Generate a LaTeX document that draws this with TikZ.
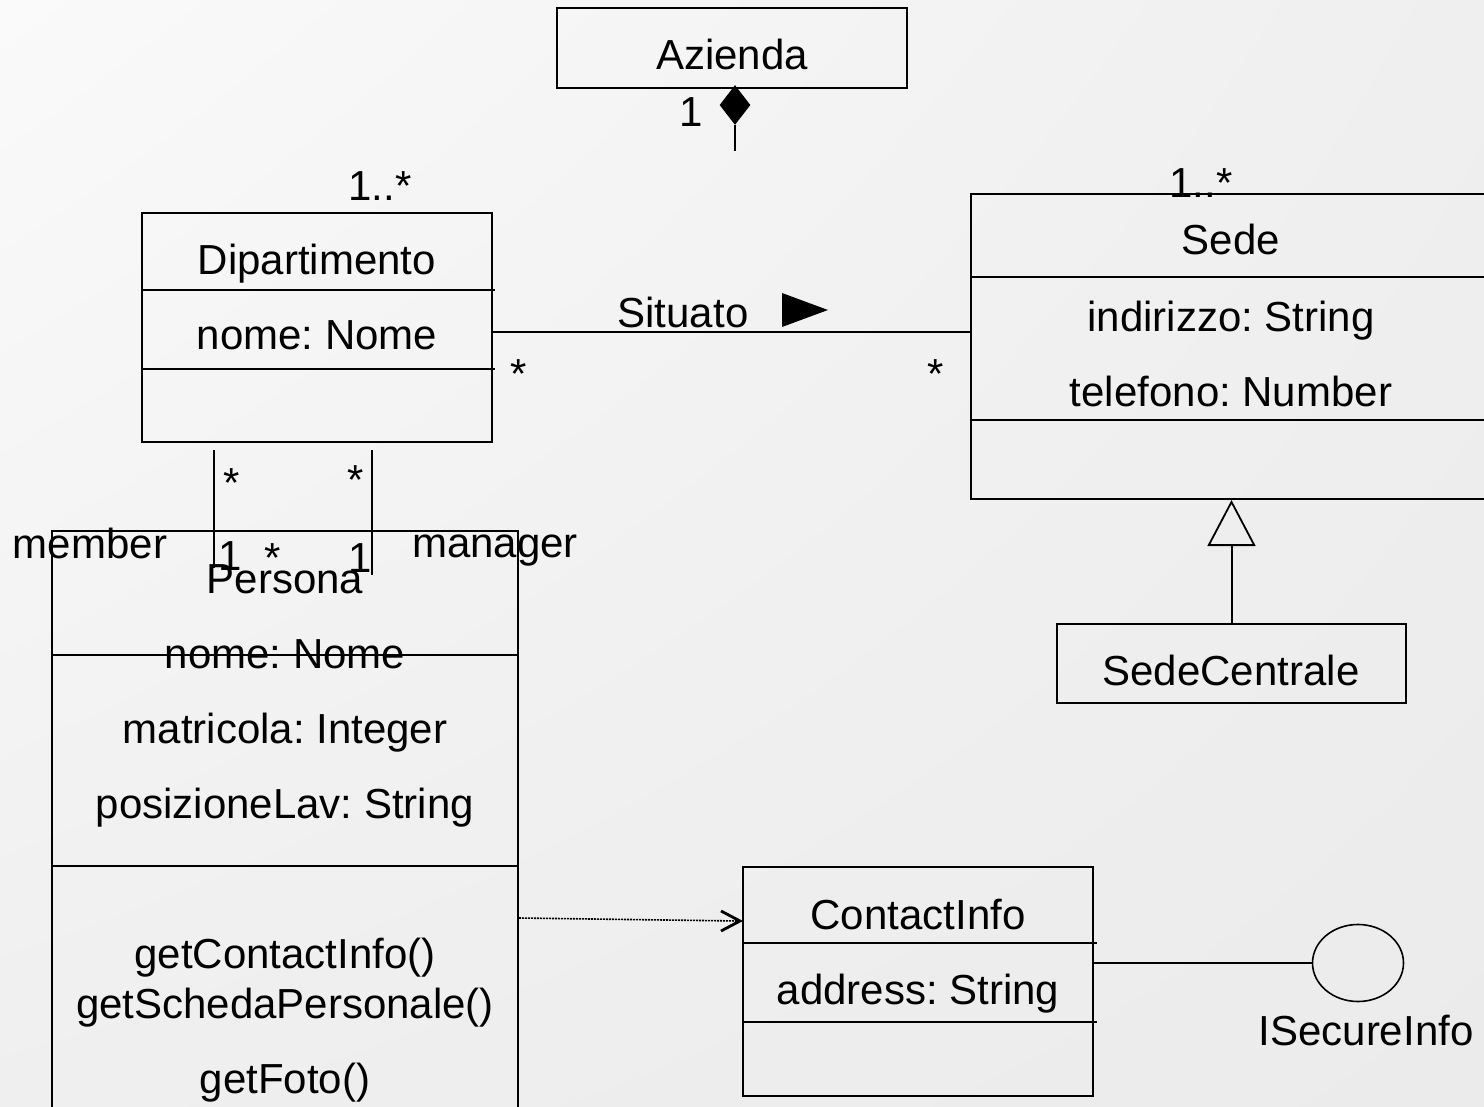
\documentclass[tikz,border=0pt]{standalone}
\usepackage{fontspec}
\setmainfont{Liberation Sans}
\frenchspacing
\usetikzlibrary{arrows.meta,shapes.geometric,shadings}
\definecolor{bglight}{RGB}{250,250,250}
\definecolor{bgmid}{RGB}{239,239,239}
\definecolor{bgdark}{RGB}{235,235,235}

\begin{document}
\begin{tikzpicture}[x=0.5pt,y=-0.5pt,>=Latex,
  cls/.style={draw,line width=1pt,inner sep=0pt},
  txt/.style={font=\fontsize{21}{25}\selectfont,inner sep=0pt,anchor=base},
  sep/.style={line width=1pt},
  link/.style={line width=1pt}]
\useasboundingbox (0,0) rectangle (1484,1107);
\clip (0,0) rectangle (1484,1107);
\shade[upper left=bglight,upper right=bgmid,lower left=bgmid,lower right=bgdark] (0,0) rectangle (1484,1107);

\node[cls,minimum width=175pt,minimum height=40pt] (az) at (732,48) {};
\node[txt] (azN) at (732,70) {Azienda};
\node[diamond,fill=black,minimum width=15.5pt,minimum height=20pt,inner sep=0pt] (comp) at (735,105) {};
\coordinate (compEnd) at (735,151);
\draw[line width=0.8pt] (comp.south) -- (compEnd);
\node[txt] (azM) at (691,127) {1};

\node[cls,minimum width=175pt,minimum height=114.5pt] (dip) at (317,327.5) {};
\draw[sep] (142,290) -- (495,290);
\draw[sep] (142,369) -- (495,369);
\node[txt] (dipN) at (317,275) {Dipartimento};
\node[txt] (dipA) at (317,350) {nome: Nome};
\node[txt] (dipM) at (380,201) {1..*};

\node[cls,minimum width=264.5pt,minimum height=152.5pt] (sede) at (1235.5,346.5) {};
\draw[sep] (971,277) -- (1500,277);
\draw[sep] (971,420) -- (1500,420);
\node[txt] (sedeN) at (1231,255) {Sede};
\node[txt] (sedeA) at (1231,332) {indirizzo: String};
\node[txt] (sedeB) at (1231,407) {telefono: Number};
\node[txt] (sedeM) at (1201,198) {1..*};

\coordinate (sit1) at ([yshift=-2.25pt]dip.east);
\draw[link] (sit1) -- (sit1 -| sede.west);
\node[txt] (sit) at (683,328) {Situato};
\fill (782,293) -- (828,310) -- (782,327) -- cycle;
\node[txt] (sitL) at (519,388) {*};
\node[txt] (sitR) at (936,388) {*};

\node[cls,minimum width=174.5pt,minimum height=39.5pt] (sc) at (1231.5,663.5) {};
\node[txt] (scN) at (1231,685) {SedeCentrale};
\draw[link,-{Triangle[open,length=23pt,width=24pt,line width=0.9pt]}] (sc.north) -- (sc.north |- sede.south);

\node[cls,minimum width=233pt,minimum height=299.5pt] (per) at (285,830.5) {};
\draw[sep] (52,655) -- (518,655);
\draw[sep] (52,866) -- (518,866);
\node[txt] (perN) at (285,593) {Persona};
\node[txt] (perA) at (285,668) {nome: Nome};
\node[txt] (perB) at (285,743) {matricola: Integer};
\node[txt] (perC) at (285,818) {posizioneLav: String};
\node[txt] (perO1) at (285,968) {getContactInfo()};
\node[txt] (perO2) at (285,1018) {getSchedaPersonale()};
\node[txt] (perO3) at (285,1093) {getFoto()};

\coordinate (memTop) at (214,450);
\coordinate (memBot) at (214,568);
\coordinate (manTop) at (372,450);
\coordinate (manBot) at (372,575);
\draw[link] (memTop) -- (memBot);
\draw[link] (manTop) -- (manBot);
\node[txt] (memS) at (232,497) {*};
\node[txt] (manS) at (356,494) {*};
\node[txt] (memO) at (230,570) {1};
\node[txt] (manO) at (360,572) {1};
\node[txt] (midS) at (273,572) {*};
\node[txt] (mem) at (90,558) {member};
\node[txt] (man) at (495,557) {manager};

\node[cls,minimum width=175pt,minimum height=114.5pt] (ci) at (918,981.5) {};
\draw[sep] (743,943) -- (1097,943);
\draw[sep] (743,1022) -- (1097,1022);
\node[txt] (ciN) at (918,929) {ContactInfo};
\node[txt] (ciA) at (918,1004) {address: String};
\coordinate (depEnd) at (ci.west |- 0,921);
\draw[line width=0.8pt,dash pattern=on 1pt off 0.5pt] (per.east |- 0,918) -- ([xshift=-2pt]depEnd);
\draw[line width=1.4pt] ([shift={(-21,-10)}]depEnd) -- ([xshift=-1pt]depEnd) -- ([shift={(-21,10)}]depEnd);

\node[draw,ellipse,line width=0.8pt,minimum width=45.5pt,minimum height=38.5pt,inner sep=0pt] (isec) at (1358,963) {};
\draw[link] (ci.east |- isec.west) -- (isec.west);
\node[txt] (isecN) at (1366,1045) {ISecureInfo};
\end{tikzpicture}
\end{document}
